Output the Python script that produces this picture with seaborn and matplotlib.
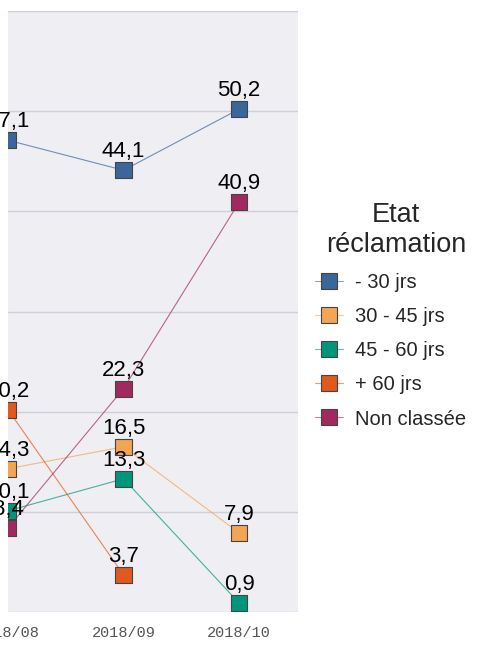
import numpy as np
import pandas as pd
import matplotlib
matplotlib.use("Agg")
import matplotlib.pyplot as plt
import matplotlib.colors as mcolors
from matplotlib.lines import Line2D
import seaborn as sns

# données
mois = ['2018/08', '2018/09', '2018/10']
etats = ['- 30 jrs', '30 - 45 jrs', '45 - 60 jrs', '+ 60 jrs', 'Non classée']
moins_30 = [47.1, 44.1, 50.2]
de_30_45 = [14.3, 16.5, 7.9]
de_45_60 = [10.1, 13.3, 0.9]
plus_60 = [20.2, 3.7, np.nan]
non_classee = [8.4, 22.3, 40.9]
couleurs = ['#3A6699', '#F2A553', '#00967A', '#E1591F', '#A1295F']

series = [moins_30, de_30_45, de_45_60, plus_60, non_classee]
rows = []
for etat, vals in zip(etats, series):
    for i, (m, v) in enumerate(zip(mois, vals)):
        if not np.isnan(v):
            rows.append({'mois': m, 'pos': i, 'etat': etat, 'valeur': v})
df = pd.DataFrame(rows)

sns.set_theme(style="darkgrid")
plt.rcParams['font.family'] = ['Liberation Sans', 'DejaVu Sans']

fig = plt.figure(figsize=(4.79, 6.45), dpi=100)
ax = fig.add_axes([8 / 479, 33 / 645, 290 / 479, 601 / 645])
ax.set_facecolor('#EEEEF3')

palette = dict(zip(etats, couleurs))
# lignes fines, un peu transparentes
sns.lineplot(data=df, x='pos', y='valeur', hue='etat', hue_order=etats,
             palette=palette, linewidth=0.8, alpha=0.7, legend=False,
             ax=ax, zorder=2)
# marqueurs carrés
sns.scatterplot(data=df, x='pos', y='valeur', hue='etat', hue_order=etats,
                palette=palette, marker='s', s=135, edgecolor='#444444',
                linewidth=0.8, legend=False, ax=ax, zorder=3)

# étiquettes de valeurs
for _, r in df.iterrows():
    ax.annotate(f"{r['valeur']:.1f}".replace('.', ','), (r['pos'], r['valeur']),
                xytext=(0, 13), textcoords='offset pixels', ha='center',
                va='baseline', fontsize=16, color='black', zorder=4,
                annotation_clip=False)

ax.set_xlim(0, 2.51)
ax.set_ylim(0, 60)
ax.set_yticks(np.arange(0, 61, 10))
ax.set_xticks(range(len(mois)))
ax.set_xticklabels(mois, family='Liberation Mono', fontsize=11, color='#555555')
ax.tick_params(axis='x', length=0, pad=10)
ax.tick_params(axis='y', labelleft=False, length=0)
ax.grid(axis='x', visible=False)
ax.grid(axis='y', color='#CFCFD9', linewidth=1)
ax.set_xlabel('')
ax.set_ylabel('')
for s in ax.spines.values():
    s.set_visible(False)


def eclaircir(c, f=0.6):
    rgb = np.array(mcolors.to_rgb(c))
    return tuple(rgb * f + (1 - f))


# légende : trait clair, carré opaque
handles = [Line2D([0], [0], color=eclaircir(c), linewidth=0.8, marker='s',
                  markersize=11.5, markerfacecolor=c, markeredgecolor='#444444',
                  markeredgewidth=0.8) for c in couleurs]
leg = fig.legend(handles, etats, title='Etat\nréclamation', loc='upper left',
                 bbox_to_anchor=(315 / 479, 1 - 202 / 645), frameon=False,
                 fontsize=14.5, title_fontsize=19.5, handlelength=1.4,
                 handletextpad=0.6, labelspacing=0.75, borderpad=0,
                 borderaxespad=0, alignment='right')
leg.get_title().set_multialignment('center')

plt.savefig('out.png', dpi=100)
